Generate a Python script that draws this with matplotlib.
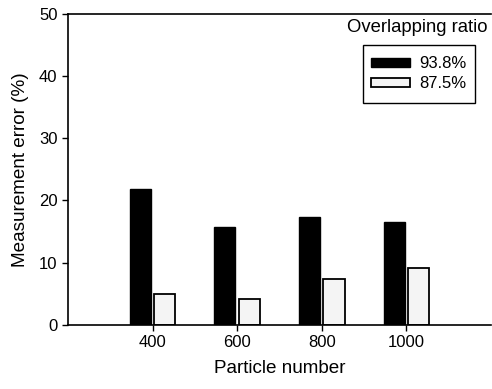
import matplotlib
matplotlib.use('Agg')
import matplotlib.pyplot as plt
from matplotlib.patches import Rectangle
import numpy as np

# Data
particles = [400, 600, 800, 1000]
ratio_938 = [21.8, 15.7, 17.4, 16.6]
ratio_875 = [4.9, 4.1, 7.3, 9.2]

plt.rcParams['font.family'] = ['Liberation Sans', 'DejaVu Sans']

fig = plt.figure(figsize=(4.92, 3.89), dpi=100)
ax = fig.add_axes([0.138, 0.165, 0.86, 0.799])

x = np.array(particles)
w = 50
ax.bar(x - 29, ratio_938, width=w, color='black', edgecolor='black', linewidth=1, label='93.8%')
ax.bar(x + 29, ratio_875, width=w, color='#f4f4f4', edgecolor='black', linewidth=1.3, label='87.5%')

ax.set_xlim(200, 1200)
ax.set_ylim(0, 50)
ax.set_xticks(particles)
ax.set_yticks([0, 10, 20, 30, 40, 50])
ax.tick_params(direction='out', length=4, width=1, labelsize=12, colors='black')
ax.spines['right'].set_visible(False)
for s in ['left', 'bottom', 'top']:
    ax.spines[s].set_linewidth(1.2)

ax.set_xlabel('Particle number', fontsize=13.6, labelpad=7)
ax.set_ylabel('Measurement error (%)', fontsize=13.6, labelpad=7)

ax.text(0.991, 0.958, 'Overlapping ratio', transform=ax.transAxes,
        ha='right', va='center', fontsize=13.3)

# legend box drawn by hand, entries centred inside it
ax.add_patch(Rectangle((0.697, 0.714), 0.265, 0.186, transform=ax.transAxes,
                       facecolor='white', edgecolor='black', linewidth=1, zorder=4))
leg = ax.legend(loc='center', bbox_to_anchor=(0.8295, 0.807), fontsize=12,
                frameon=False, handlelength=2.34, handleheight=0.48,
                borderpad=0, labelspacing=0.3, handletextpad=0.55, borderaxespad=0)
leg.set_zorder(5)

fig.savefig('out.png', dpi=100)
